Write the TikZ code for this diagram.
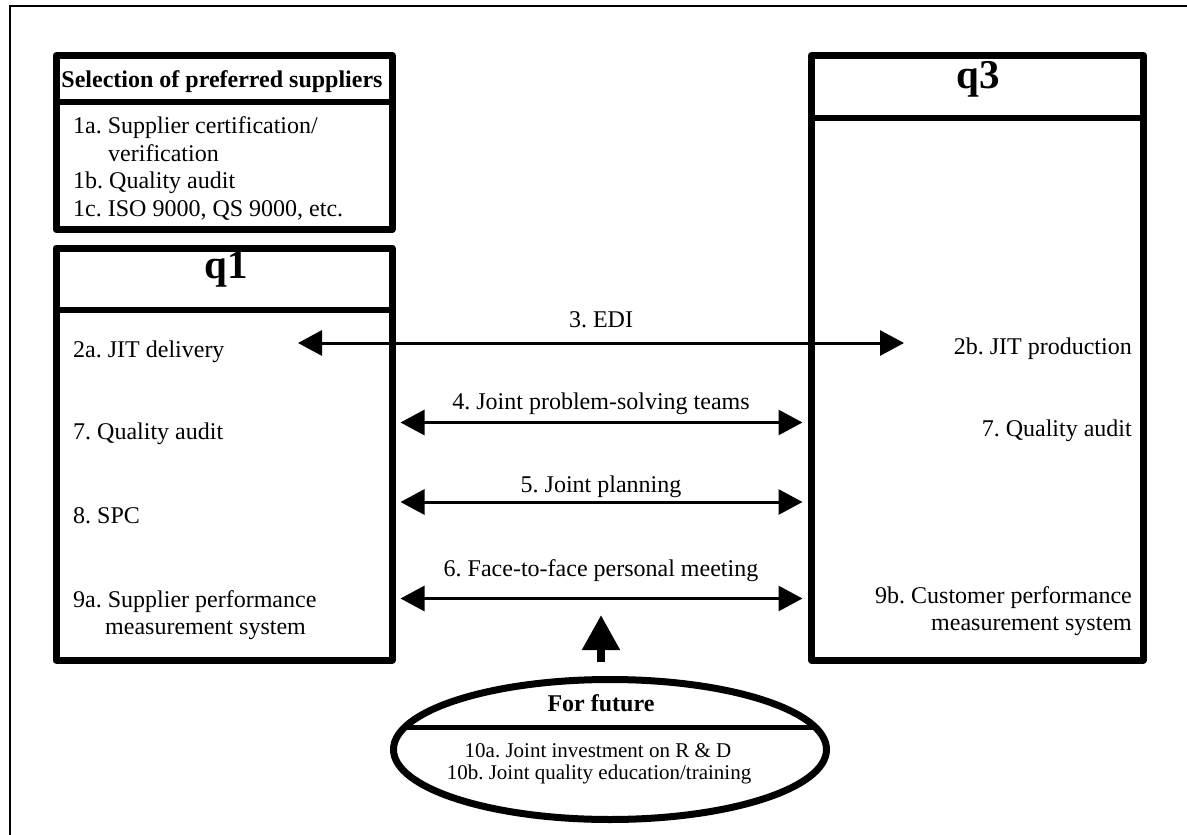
\documentclass[tikz,border=0pt]{standalone}
\usepackage{fontspec}
\setmainfont{Liberation Serif}
\usetikzlibrary{arrows.meta,shapes.geometric}
\frenchspacing

\begin{document}
\begin{tikzpicture}[x=1pt,y=-1pt,
  every node/.style={inner sep=0pt, font=\fontsize{24}{27.5}\selectfont},
  panel/.style={draw, rectangle, line width=7pt, line join=round},
  divider/.style={line width=6pt},
  itemtxt/.style={anchor=base west},
  ritemtxt/.style={anchor=base east},
  lbltxt/.style={anchor=base},
  headtxt/.style={anchor=base, font=\fontsize{24}{27.5}\selectfont\bfseries},
  bigtxt/.style={anchor=base, font=\fontsize{41}{45}\selectfont\bfseries},
  smalltxt/.style={anchor=base, font=\fontsize{21}{24}\selectfont},
  link/.style={line width=3pt,
    {Triangle[length=24pt,width=25pt]}-{Triangle[length=24pt,width=25pt]}},
  blockarrow/.style={line width=8pt, -{Triangle[length=35pt,width=36pt]}},
]
\useasboundingbox (0,0) rectangle (1187,835);

% outer frame (top and left edges)
\draw[line width=2pt] (1187,6) -- (10,6) -- (10,835);

% panels
\node[panel, minimum width=336pt, minimum height=174pt] (sel) at (224,142.5) {};
\node[panel, minimum width=336pt, minimum height=412pt] (q1) at (224,454) {};
\node[panel, minimum width=332pt, minimum height=604.5pt] (q3) at (977.5,357.75) {};

% header dividers
\draw[divider] (56,102) -- (392,102);
\draw[divider] (56,310) -- (392,310);
\draw[divider] (811.5,118) -- (1143.5,118);

% selection of preferred suppliers
\node[headtxt] (selh) at (222,87) {Selection of preferred suppliers};
\node[itemtxt] (s1a) at (73,133) {1a. Supplier certification/};
\node[itemtxt] (s1a2) at (108,161) {verification};
\node[itemtxt] (s1b) at (73,188) {1b. Quality audit};
\node[itemtxt] (s1c) at (73,216) {1c. ISO 9000, QS 9000, etc.};

% q1 panel
\node[bigtxt] (q1h) at (226,278) {q1};
\node[itemtxt] (jitd) at (73,357) {2a. JIT delivery};
\node[itemtxt] (qa1) at (73,439) {7. Quality audit};
\node[itemtxt] (spc) at (73,523) {8. SPC};
\node[itemtxt] (spm) at (73,607) {9a. Supplier performance};
\node[itemtxt] (spm2) at (105,634) {measurement system};

% q3 panel
\node[bigtxt] (q3h) at (978,88) {q3};
\node[ritemtxt] (jitp) at (1132,354) {2b. JIT production};
\node[ritemtxt] (qa3) at (1132,436) {7. Quality audit};
\node[ritemtxt] (cpm) at (1132,603) {9b. Customer performance};
\node[ritemtxt] (cpm2) at (1132,630) {measurement system};

% links between the panels
\coordinate (edil) at (298,343);
\coordinate (edir) at (904,343);
\coordinate (a4) at (0,422.5);
\coordinate (a5) at (0,502);
\coordinate (a6) at (0,598.5);
\draw[link] (edil) -- (edir);
\draw[link, shorten <=5pt, shorten >=5.5pt] (q1.east |- a4) -- (q3.west |- a4);
\draw[link, shorten <=5pt, shorten >=5.5pt] (q1.east |- a5) -- (q3.west |- a5);
\draw[link, shorten <=5pt, shorten >=5.5pt] (q1.east |- a6) -- (q3.west |- a6);

\node[lbltxt] (l3) at (601,327) {3. EDI};
\node[lbltxt] (l4) at (601,409) {4. Joint problem-solving teams};
\node[lbltxt] (l5) at (601,492) {5. Joint planning};
\node[lbltxt] (l6) at (601,576) {6. Face-to-face personal meeting};

% future plans
\node[draw, ellipse, line width=7pt, minimum width=433pt, minimum height=140pt] (fut) at (610,749.5) {};
\begin{scope}
  \clip (fut.center) ellipse [x radius=216.5pt, y radius=70pt];
  \draw[line width=5pt] (380,727) -- (840,727);
\end{scope}
\node[headtxt] (futh) at (601,711) {For future};
\node[smalltxt] (f10a) at (598,757) {10a. Joint investment on R \& D};
\node[smalltxt] (f10b) at (599,779) {10b. Joint quality education/training};

\coordinate (upfoot) at (601,662);
\coordinate (uptip) at (601,615);
\draw[blockarrow] (upfoot) -- (uptip);
\end{tikzpicture}
\end{document}
